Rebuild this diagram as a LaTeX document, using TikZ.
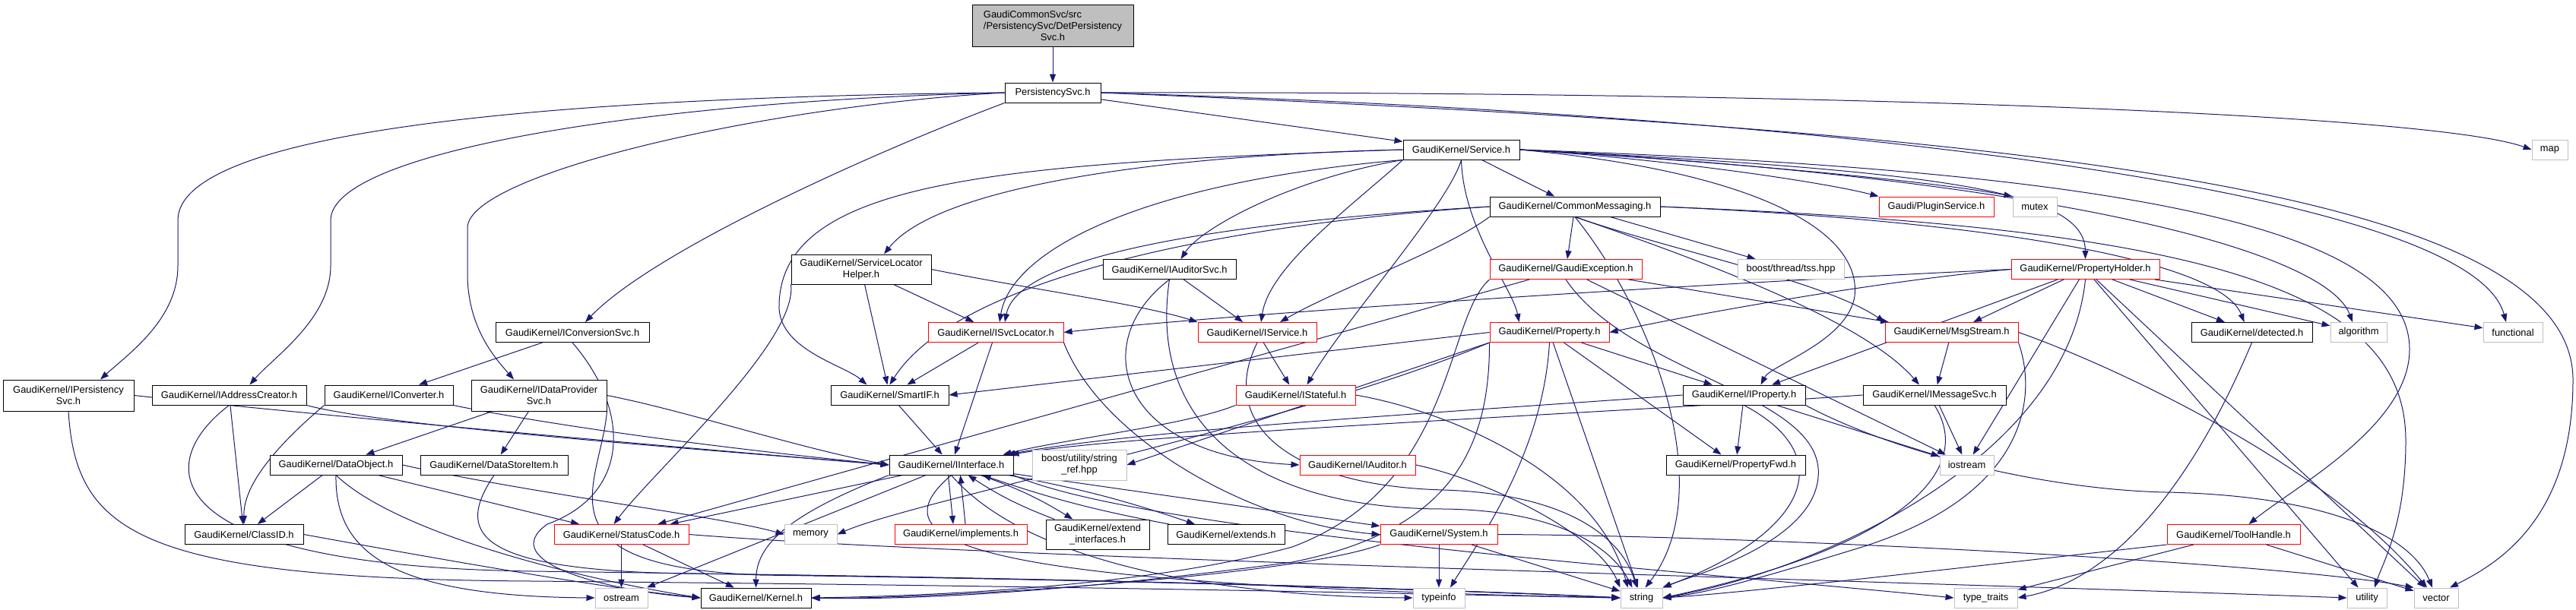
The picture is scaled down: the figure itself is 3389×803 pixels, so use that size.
\documentclass[tikz,border=0pt]{standalone}
\usepackage{fontspec}
\setmainfont{Liberation Sans}
\usetikzlibrary{arrows.meta}
\definecolor{edgecol}{HTML}{191970}
\definecolor{graybd}{HTML}{BFBFBF}
\pgfdeclarelayer{bg}
\pgfsetlayers{bg,main}
\begin{document}
\begin{tikzpicture}[x=1pt,y=-1pt,
  nbox/.style={draw=black, fill=white, line width=1pt, inner sep=0pt, align=center, font=\fontsize{12.9}{14.7}\selectfont, minimum height=26pt},
  rbox/.style={nbox, draw=red},
  gbox/.style={nbox, draw=graybd},
  e/.style={draw=edgecol, line width=1pt, -{Triangle[length=11pt,width=8pt]}},
]
\useasboundingbox (0,0) rectangle (3389,803);
% rank 0-4
\node[nbox, minimum width=212pt, minimum height=55pt, fill=graybd] (det) at (1385,33.5) {\begin{tabular}{@{}l@{}}GaudiCommonSvc/src\\/PersistencySvc/DetPersistency\end{tabular}\\Svc.h};
\node[nbox, minimum width=126pt] (psvc) at (1385,122) {PersistencySvc.h};
\node[nbox, minimum width=153pt] (service) at (1922.5,197) {GaudiKernel/Service.h};
\node[gbox, minimum width=47pt] (map) at (3354.5,197) {map};
\node[nbox, minimum width=224pt] (cmsg) at (2072,272) {GaudiKernel/CommonMessaging.h};
\node[rbox, minimum width=151pt] (plugin) at (2547.5,272) {Gaudi/PluginService.h};
\node[gbox, minimum width=58pt] (mutex) at (2677,272) {mutex};
\node[nbox, minimum width=184pt, minimum height=39pt] (slhelper) at (1133,354.5) {GaudiKernel/ServiceLocator\\Helper.h};
\node[nbox, minimum width=175pt] (iauditorsvc) at (1538.5,354.5) {GaudiKernel/IAuditorSvc.h};
\node[rbox, minimum width=200pt] (gexc) at (2060,354.5) {GaudiKernel/GaudiException.h};
\node[gbox, minimum width=140pt] (tss) at (2356,354.5) {boost/thread/tss.hpp};
\node[rbox, minimum width=195pt] (pholder) at (2743.5,354.5) {GaudiKernel/PropertyHolder.h};
% rank 5
\node[nbox, minimum width=202pt] (iconvsvc) at (753,437.5) {GaudiKernel/IConversionSvc.h};
\node[rbox, minimum width=178pt] (isvcloc) at (1310,437.5) {GaudiKernel/ISvcLocator.h};
\node[rbox, minimum width=156pt] (iservice) at (1654,437.5) {GaudiKernel/IService.h};
\node[rbox, minimum width=157pt] (property) at (2038.5,437.5) {GaudiKernel/Property.h};
\node[rbox, minimum width=175pt] (msgstream) at (2567.5,437.5) {GaudiKernel/MsgStream.h};
\node[nbox, minimum width=159pt] (detected) at (2962.5,437.5) {GaudiKernel/detected.h};
\node[gbox, minimum width=74pt] (algorithm) at (3103,437.5) {algorithm};
\node[gbox, minimum width=78pt] (functional) at (3306,437.5) {functional};
% rank 6
\node[nbox, minimum width=172pt, minimum height=41pt] (ipersist) at (90,520.5) {GaudiKernel/IPersistency\\Svc.h};
\node[nbox, minimum width=203pt] (iaddr) at (301.5,520) {GaudiKernel/IAddressCreator.h};
\node[nbox, minimum width=169pt] (iconv) at (511.5,520) {GaudiKernel/IConverter.h};
\node[nbox, minimum width=178pt, minimum height=41pt] (idataprov) at (709,520.5) {GaudiKernel/IDataProvider\\Svc.h};
\node[nbox, minimum width=155pt] (smartif) at (1170.5,520) {GaudiKernel/SmartIF.h};
\node[rbox, minimum width=157pt] (istateful) at (1704.5,520) {GaudiKernel/IStateful.h};
\node[nbox, minimum width=161pt] (iproperty) at (2294.5,520) {GaudiKernel/IProperty.h};
\node[nbox, minimum width=188pt] (imsgsvc) at (2545,520) {GaudiKernel/IMessageSvc.h};
% rank 7
\node[nbox, minimum width=174pt] (dataobject) at (442,612) {GaudiKernel/DataObject.h};
\node[nbox, minimum width=194pt] (datastore) at (650,612) {GaudiKernel/DataStoreItem.h};
\node[nbox, minimum width=163pt] (iinterface) at (1251.5,612) {GaudiKernel/IInterface.h};
\node[gbox, minimum width=124pt, minimum height=40pt] (stringref) at (1420,612) {boost/utility/string\\\_ref.hpp};
\node[rbox, minimum width=152pt] (iauditor) at (1786,612) {GaudiKernel/IAuditor.h};
\node[nbox, minimum width=183pt] (propfwd) at (2283.5,612) {GaudiKernel/PropertyFwd.h};
\node[gbox, minimum width=71pt] (iostream) at (2587.5,612) {iostream};
% rank 8
\node[nbox, minimum width=156pt] (classid) at (321,703.5) {GaudiKernel/ClassID.h};
\node[rbox, minimum width=177pt] (statuscode) at (817.5,703.5) {GaudiKernel/StatusCode.h};
\node[gbox, minimum width=69pt] (memory) at (1066.5,703.5) {memory};
\node[rbox, minimum width=174pt] (implements) at (1264,703.5) {GaudiKernel/implements.h};
\node[nbox, minimum width=136pt, minimum height=39pt] (extendif) at (1444,703.5) {GaudiKernel/extend\\\_interfaces.h};
\node[nbox, minimum width=154pt] (extends) at (1613,703.5) {GaudiKernel/extends.h};
\node[rbox, minimum width=154pt] (system) at (1893,703.5) {GaudiKernel/System.h};
\node[rbox, minimum width=175pt] (toolhandle) at (2938.5,703.5) {GaudiKernel/ToolHandle.h};
% rank 9
\node[gbox, minimum width=69pt] (ostream) at (817.5,787) {ostream};
\node[nbox, minimum width=145pt] (kernel) at (994.5,787) {GaudiKernel/Kernel.h};
\node[gbox, minimum width=68pt] (typeinfo) at (1893,787) {typeinfo};
\node[gbox, minimum width=55pt] (string) at (2159.5,787) {string};
\node[gbox, minimum width=83pt] (typetraits) at (2612.5,787) {type\_traits};
\node[gbox, minimum width=52pt] (utility) at (3114,787) {utility};
\node[gbox, minimum width=58pt] (vector) at (3205,787) {vector};

\begin{pgfonlayer}{bg}
% PersistencySvc
\draw[e] (det) -- (psvc);
\draw[e] (psvc.west) .. controls (700,128) and (234,175) .. (234,290) -- (234,350) .. controls (234,420) and (170,465) .. ([xshift=42]ipersist.north);
\draw[e] (psvc.west) .. controls (850,133) and (435,200) .. (435,290) -- (435,350) .. controls (435,420) and (360,470) .. ([xshift=27]iaddr.north);
\draw[e] (psvc.west) .. controls (1000,140) and (615,230) .. (615,300) -- (615,360) .. controls (615,430) and (650,470) .. ([xshift=-33]idataprov.north);
\draw[e] (psvc.south west) .. controls (1150,200) and (860,330) .. ([xshift=17]iconvsvc.north);
\draw[e] (psvc) -- (service);
\draw[e] (psvc.east) .. controls (2400,120) and (3200,150) .. (map.west);
\draw[e] (psvc.east) .. controls (2400,150) and (3250,250) .. ([xshift=-9]functional.north);
\draw[e] (psvc.east) .. controls (2600,170) and (3385,240) .. (3385,500) .. controls (3385,680) and (3290,740) .. ([xshift=18]vector.north);
% Service
\draw[e] (service) -- (cmsg);
\draw[e] (service.south west) .. controls (1700,235) and (1580,300) .. ([xshift=15]iauditorsvc.north);
\draw[e] (service.west) .. controls (1500,205) and (1230,250) .. ([xshift=30]slhelper.north);
\draw[e] (service.west) .. controls (1300,215) and (1030,240) .. (1025,400) .. controls (1022,460) and (1110,480) .. ([xshift=-30]smartif.north);
\draw[e] (service.south west) .. controls (1500,240) and (1330,330) .. ([xshift=5]isvcloc.north);
\draw[e] (service.south west) .. controls (1780,270) and (1670,350) .. ([xshift=5]iservice.north);
\draw[e] (service.south) .. controls (1905,270) and (1770,420) .. ([xshift=15]istateful.north);
\draw[e] (service.south) .. controls (1925,300) and (1990,380) .. ([xshift=-40]property.north);
\draw[e] (service.east) .. controls (2300,225) and (2450,300) .. (2440,390) .. controls (2430,450) and (2330,480) .. ([xshift=22]iproperty.north);
\draw[e] (service.east) .. controls (2200,210) and (2400,240) .. (plugin.north west);
\draw[e] (service.east) .. controls (2300,215) and (2550,240) .. (mutex.north west);
\draw[e] (service.east) .. controls (2550,225) and (2743,250) .. (pholder.north);
\draw[e] (service.east) .. controls (2800,225) and (3170,300) .. (3170,460) .. controls (3170,560) and (3020,640) .. ([xshift=20]toolhandle.north);
\draw[e] (service.east) .. controls (2700,235) and (3060,330) .. ([xshift=-8]algorithm.north);
% CommonMessaging
\draw[e] (cmsg) -- (gexc);
\draw[e] (cmsg) -- (tss);
\draw[e] (cmsg.west) .. controls (1650,290) and (1340,330) .. ([xshift=12]isvcloc.north);
\draw[e] (cmsg.west) .. controls (1550,300) and (1250,380) .. (smartif.north);
\draw[e] (cmsg.south west) .. controls (1900,330) and (1760,380) .. ([xshift=30]iservice.north);
\draw[e] (cmsg.south) .. controls (2200,330) and (2400,370) .. (msgstream.north west);
\draw[e] (cmsg.south) .. controls (2230,340) and (2450,420) .. ([xshift=-20]imsgsvc.north);
\draw[e] (cmsg.east) .. controls (2600,290) and (2920,340) .. ([xshift=-10]detected.north);
\draw[e] (cmsg.east) .. controls (2900,300) and (3165,380) .. (3165,580) .. controls (3165,690) and (3135,740) .. ([xshift=10]utility.north);
\draw[e] (cmsg.south) .. controls (2180,420) and (2260,650) .. ([xshift=5]string.north);
% ServiceLocatorHelper
\draw[e] (slhelper) -- (isvcloc);
\draw[e] (slhelper.east) .. controls (1350,380) and (1500,400) .. (iservice.north west);
\draw[e] (slhelper) -- (smartif);
\draw[e] (slhelper.south west) .. controls (1050,450) and (860,620) .. ([xshift=-10]statuscode.north);
% IAuditorSvc
\draw[e] (iauditorsvc) -- (iservice);
\draw[e] (iauditorsvc.south) .. controls (1430,450) and (1470,600) .. (iauditor.west);
\draw[e] (iauditorsvc.south) .. controls (1510,560) and (1650,670) .. (1900,670) .. controls (2050,672) and (2120,720) .. ([xshift=-12]string.north);
% GaudiException
\draw[e] (gexc) -- (msgstream);
\draw[e] (gexc) -- (statuscode);
\draw[e] (gexc.south west) .. controls (1900,420) and (1915,640) .. (1700,720) .. controls (1500,775) and (1200,785) .. (kernel.east);
\draw[e] (gexc) -- (iostream);
\draw[e] (gexc.south) .. controls (2150,500) and (2420,520) .. (2390,640) .. controls (2370,720) and (2220,760) .. (string.north east);
% PropertyHolder
\draw[e] (pholder.west) .. controls (2200,375) and (1600,415) .. (isvcloc.east);
\draw[e] (pholder.west) .. controls (2450,372) and (2200,420) .. (property.east);
\draw[e] (pholder) -- (msgstream);
\draw[e] (pholder) -- (iproperty);
\draw[e] (pholder) -- (detected);
\draw[e] (pholder) -- (algorithm);
\draw[e] (pholder) -- (functional);
\draw[e] (pholder) -- (iostream);
\draw[e] (pholder) -- (utility);
\draw[e] (pholder) -- (vector);
\draw[e] (pholder.south) .. controls (2720,600) and (2400,750) .. (string.east);
% MsgStream, IMessageSvc
\draw[e] (msgstream) -- (imsgsvc);
\draw[e] (msgstream.south east) .. controls (2680,520) and (2670,650) .. (2450,720) .. controls (2320,760) and (2250,780) .. (string.east);
\draw[e] (msgstream.east) .. controls (2750,470) and (3050,600) .. ([xshift=-12]vector.north);
\draw[e] (imsgsvc.west) .. controls (2100,545) and (1500,570) .. ([xshift=-4]iinterface.north east);
\draw[e] (imsgsvc) -- (iostream);
\draw[e] (imsgsvc.south) .. controls (2600,620) and (2500,720) .. (string.east);
% IProperty
\draw[e] (iproperty.west) .. controls (1950,540) and (1500,565) .. ([xshift=-9]iinterface.north east);
\draw[e] (iproperty) -- (propfwd);
\draw[e] (iproperty) -- (iostream);
\draw[e] (iproperty.south) .. controls (2420,600) and (2380,700) .. (string.north east);
\draw[e] (iproperty.south east) .. controls (2500,600) and (2700,645) .. (2850,648) .. controls (3050,652) and (3170,700) .. ([xshift=-5]vector.north);
% Property
\draw[e] (property.west) -- (smartif.east);
\draw[e] (property) -- (iproperty);
\draw[e] (property) -- (propfwd);
\draw[e] (property) -- (string);
\draw[e] (property.south) .. controls (2030,600) and (1940,720) .. ([xshift=15]typeinfo.north);
\draw[e] (property.south west) .. controls (1960,600) and (1900,700) .. (1700,740) .. controls (1400,780) and (1200,790) .. (kernel.east);
\draw[e] (property.south west) -- (stringref.east);
\draw[e] (property.south west) .. controls (1700,560) and (1200,660) .. (memory.east);
% IStateful, IService, IAuditor
\draw[e] (istateful.south west) .. controls (1560,560) and (1400,578) .. ([xshift=-14]iinterface.north east);
\draw[e] (istateful.east) .. controls (1900,540) and (2100,620) .. ([xshift=-18]string.north);
\draw[e] (iservice) -- (istateful);
\draw[e] (iservice.south) .. controls (1600,560) and (1700,640) .. (1900,645) .. controls (2050,650) and (2130,700) .. ([xshift=-6]string.north);
\draw[e] (iauditor.east) .. controls (1950,630) and (2100,700) .. (string.north west);
% SmartIF, ISvcLocator
\draw[e] (smartif) -- (iinterface);
\draw[e] (isvcloc) -- (smartif);
\draw[e] (isvcloc) -- (iinterface);
\draw[e] (isvcloc.south east) .. controls (1450,580) and (1650,690) .. (system.west);
% left part
\draw[e] (iconvsvc) -- (iconv);
\draw[e] (iconvsvc.south) .. controls (830,540) and (830,650) .. (720,690) .. controls (650,740) and (800,778) .. (kernel.west);
\draw[e] (iconv.south west) .. controls (360,590) and (320,640) .. (classid.north);
\draw[e] (iconv.south east) .. controls (700,555) and (900,585) .. (iinterface.west);
\draw[e] (iaddr) -- (classid);
\draw[e] (iaddr.south east) .. controls (500,560) and (900,590) .. (iinterface.west);
\draw[e] (iaddr.south) .. controls (200,610) and (200,745) .. (700,752) .. controls (1500,762) and (2000,780) .. (string.west);
\draw[e] (ipersist.east) .. controls (400,545) and (900,590) .. (iinterface.west);
\draw[e] (ipersist.south) .. controls (100,700) and (180,762) .. (700,765) .. controls (1500,772) and (2000,785) .. (string.west);
\draw[e] (idataprov) -- (dataobject);
\draw[e] (idataprov) -- (datastore);
\draw[e] (idataprov.east) .. controls (900,540) and (1050,590) .. (iinterface.west);
\draw[e] (idataprov.south east) .. controls (790,640) and (700,745) .. (1000,757) .. controls (1600,765) and (2000,780) .. (string.west);
\draw[e] (datastore.south) .. controls (600,700) and (620,750) .. (900,755) .. controls (1500,762) and (2000,780) .. (string.west);
\draw[e] (dataobject) -- (classid);
\draw[e] (dataobject) -- (statuscode);
\draw[e] (dataobject.east) .. controls (700,650) and (950,680) .. (memory.west);
\draw[e] (dataobject.south) .. controls (440,730) and (520,785) .. (ostream.west);
\draw[e] (dataobject.south) .. controls (520,700) and (750,760) .. (kernel.west);
\draw[e] (classid.east) .. controls (600,740) and (800,775) .. (kernel.west);
\draw[e] (statuscode) -- (ostream);
\draw[e] (statuscode) -- (kernel);
\draw[e] (statuscode.east) .. controls (1300,735) and (2500,765) .. (utility.west);
% IInterface
\draw[e] (iinterface) -- (statuscode);
\draw[e] (iinterface) -- (ostream);
\draw[e] (iinterface.south west) .. controls (1030,680) and (995,720) .. (kernel.north);
\draw[e] (iinterface.south) .. controls (1140,720) and (1300,770) .. (string.west);
\draw[e] ([xshift=-4]iinterface.south) -- ([xshift=-10]implements.north);
\draw[e] ([xshift=6]implements.north) -- ([xshift=12]iinterface.south);
\draw[e] (iinterface) to[bend left=6] (extendif);
\draw[e] (extendif) to[bend left=6] (iinterface);
\draw[e] (iinterface) to[bend left=4] (extends);
\draw[e] (extends) to[bend left=4] (iinterface);
\draw[e] (iinterface) -- (system);
\draw[e] (iinterface.south) .. controls (1350,740) and (1600,785) .. (typeinfo.west);
\draw[e] (iinterface.south east) .. controls (1500,700) and (2200,750) .. (typetraits.west);
% System
\draw[e] (system.south west) .. controls (1700,760) and (1200,790) .. (kernel.east);
\draw[e] (system) -- (typeinfo);
\draw[e] (system) -- (string);
\draw[e] (system.east) .. controls (2300,705) and (3000,740) .. (vector.north west);
% ToolHandle, detected
\draw[e] (toolhandle.south west) .. controls (2600,745) and (2300,780) .. (string.east);
\draw[e] (toolhandle) -- (typetraits);
\draw[e] (toolhandle) -- (vector);
\draw[e] (detected.south) .. controls (2900,600) and (2800,760) .. (typetraits.east);
\end{pgfonlayer}
\end{tikzpicture}
\end{document}
